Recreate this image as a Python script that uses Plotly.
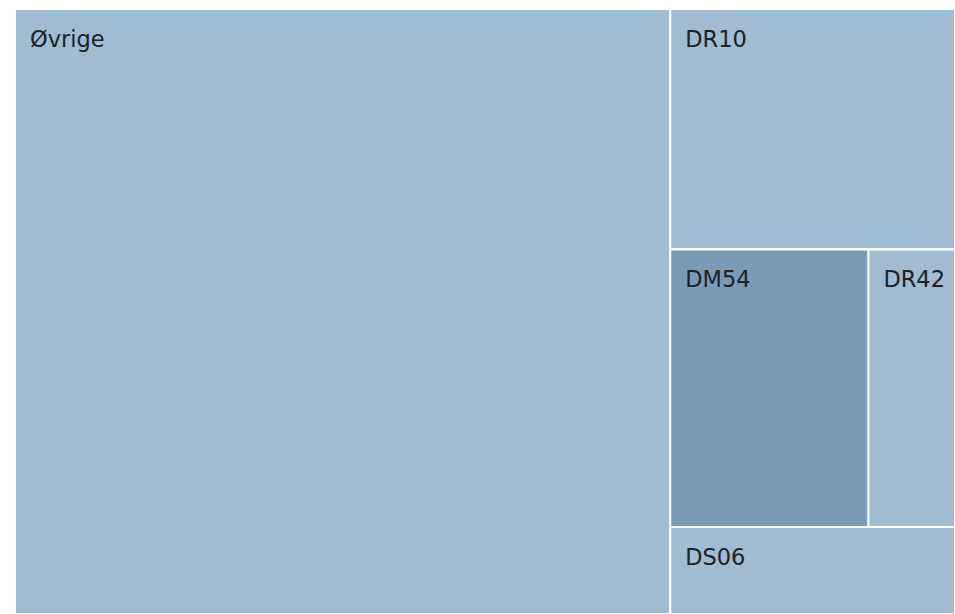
import plotly.graph_objects as go

# Tile hierarchy: the outer split is left/right, the right column stacks
# three rows, and its middle row holds two tiles side by side.
ids = ["alle", "Øvrige", "høyre", "DR10", "midt", "DM54", "DR42", "DS06"]
labels = ["", "Øvrige", "", "DR10", "", "DM54", "DR42", "DS06"]
parents = ["", "alle", "alle", "høyre", "høyre", "midt", "midt", "høyre"]
values = [0, 697.0, 0, 120.4, 0, 96.7, 42.2, 43.6]

LIGHT = "#9fbcd2"
DARK = "#7a9bb8"
colors = [LIGHT, LIGHT, LIGHT, LIGHT, LIGHT, DARK, LIGHT, LIGHT]
is_group = [v == 0 for v in values]

# A wide no-break space ahead of each label gives it some inner padding
# from the tile's top-left corner.
INSET = '<span style="font-size:37.5px">\u00a0</span>'
templates = ["" if g else INSET + "%{label}" for g in is_group]
line_widths = [0 if i == 0 else 2 for i in range(len(ids))]

fig = go.Figure(
    go.Treemap(
        ids=ids,
        labels=labels,
        parents=parents,
        values=values,
        branchvalues="remainder",
        sort=False,
        tiling=dict(packing="slice-dice", pad=0),
        marker=dict(
            colors=colors,
            line=dict(color="white", width=line_widths),
            pad=dict(t=0, l=0, r=0, b=0),
        ),
        texttemplate=templates,
        textposition="top left",
        textfont=dict(family="DejaVu Sans, Verdana, sans-serif", size=22.5, color="#222222"),
        pathbar=dict(visible=False),
        hoverinfo="label+value",
        root=dict(color=LIGHT),
    )
)

fig.update_layout(
    width=955,
    height=614,
    margin=dict(l=15, r=0, t=9, b=0),
    paper_bgcolor="white",
    showlegend=False,
)

fig.write_html("out.html")
